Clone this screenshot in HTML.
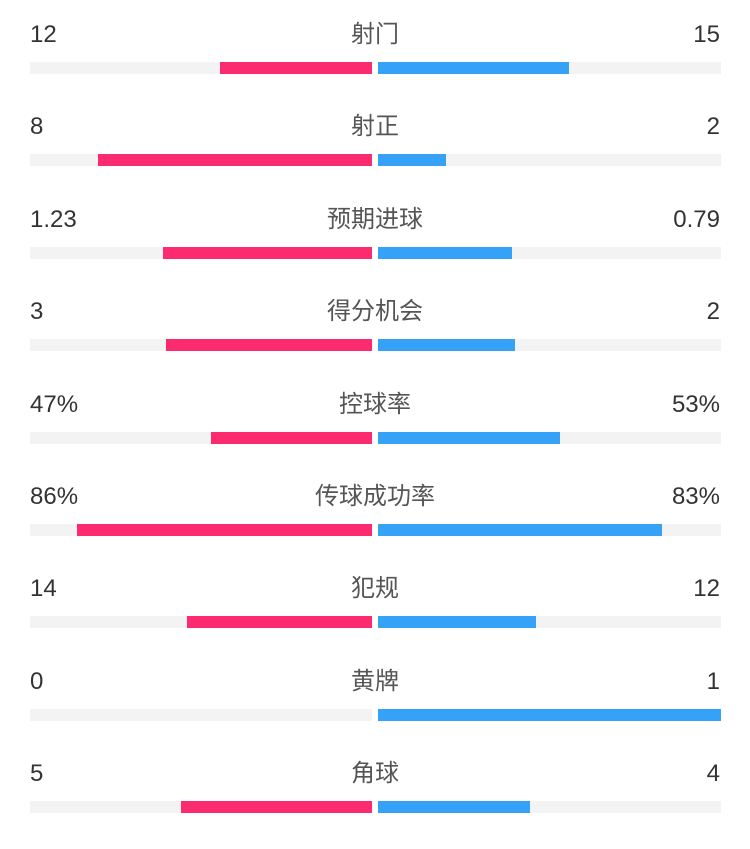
<!DOCTYPE html>
<html><head><meta charset="utf-8"><style>
body{margin:0;width:750px;height:849px;background:#fff;position:relative;overflow:hidden;font-family:"Liberation Sans","Noto Sans CJK SC",sans-serif;}
.t{position:absolute;font-size:24px;color:#333;line-height:28px;}
.l{left:30px}.r{right:30px;text-align:right}
.c{left:0;width:750px;text-align:center;color:#555;}
.b{position:absolute;height:12px;}
.tr{background:#f3f3f3}
.p{background:#fc2b6f}.u{background:#36a2f7}
</style></head><body>
<div id="root"></div>
<script>
var d=[["12","射门","15",220,569],["8","射正","2",98,446],["1.23","预期进球","0.79",163,512],["3","得分机会","2",166,515],["47%","控球率","53%",211,560],["86%","传球成功率","83%",77,662],["14","犯规","12",187,536],["0","黄牌","1",372,721],["5","角球","4",181,530]];
var h="";
d.forEach(function(r,i){var y=Math.round(i*92.4);
h+='<div class="t l" style="top:'+(21+y)+'px">'+r[0]+'</div>';
h+='<div class="t c" style="top:'+(21+y)+'px">'+r[1]+'</div>';
h+='<div class="t r" style="top:'+(21+y)+'px">'+r[2]+'</div>';
h+='<div class="b tr" style="top:'+(62+y)+'px;left:30px;width:342px"></div>';
h+='<div class="b tr" style="top:'+(62+y)+'px;left:378px;width:343px"></div>';
h+='<div class="b p" style="top:'+(62+y)+'px;left:'+r[3]+'px;width:'+(372-r[3])+'px"></div>';
h+='<div class="b u" style="top:'+(62+y)+'px;left:378px;width:'+(r[4]-378)+'px"></div>';
});
document.getElementById("root").innerHTML=h;
</script>
</body></html>
